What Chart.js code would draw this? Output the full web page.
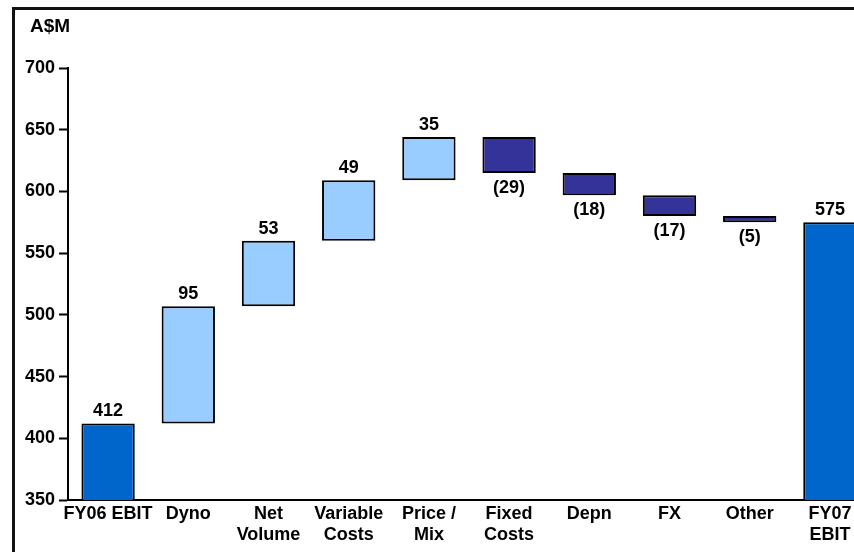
<!DOCTYPE html>
<html>
<head>
<meta charset="utf-8">
<script src="https://cdn.jsdelivr.net/npm/chart.js@4/dist/chart.umd.min.js"></script>
<style>
  html, body { margin: 0; padding: 0; background: #fff; overflow: hidden; width: 854px; height: 552px; }
  #frame { position: absolute; left: 12px; top: 7px; width: 900px; height: 600px;
           border-left: 3px solid #111; border-top: 3px solid #111; }
  #wrap { position: absolute; left: 0; top: 0; width: 870px; height: 570px; }
</style>
</head>
<body>
<div id="frame"><div id="wrap"><canvas id="c" width="870" height="570"></canvas></div></div>
<script>
// EBIT bridge, FY06 -> FY07 (A$M)
const unitText = 'A$M';
const categories = ['FY06 EBIT', 'Dyno', ['Net', 'Volume'], ['Variable', 'Costs'], ['Price /', 'Mix'],
                    ['Fixed', 'Costs'], 'Depn', 'FX', 'Other', ['FY07', 'EBIT']];
const openingTotal = 412;
const changes = [95, 53, 49, 35, -29, -18, -17, -5];
const closingTotal = 575;
const yMin = 350, yMax = 700, yStep = 50;

const totalColor = '#0066CC';
const upColor = '#99CCFF';
const downColor = '#333399';

// floating bars for each step of the bridge
const steps = [];
let running = openingTotal;
changes.forEach(d => { steps.push([running, running + d]); running += d; });
const barData = [openingTotal, ...steps, closingTotal];
const labelValues = [openingTotal, ...changes, closingTotal];
const barColors = [totalColor, ...changes.map(d => d >= 0 ? upColor : downColor), totalColor];

const FONT_FAMILY = '"Liberation Sans", Arial, Helvetica, sans-serif';
const TEXT_COLOR = '#000';
const tickFont = { family: FONT_FAMILY, size: 18, weight: 'bold', lineHeight: 1.15 };

const unitLabel = {
  id: 'unitLabel',
  afterDraw(chart) {
    const ctx = chart.ctx;
    ctx.save();
    ctx.font = 'bold 19px ' + FONT_FAMILY;
    ctx.fillStyle = TEXT_COLOR;
    ctx.textBaseline = 'middle';
    ctx.textAlign = 'left';
    ctx.fillText(unitText, 15, 17);
    ctx.restore();
  }
};

const valueLabels = {
  id: 'valueLabels',
  afterDatasetsDraw(chart) {
    const ctx = chart.ctx;
    const meta = chart.getDatasetMeta(0);
    ctx.save();
    ctx.font = 'bold 18px ' + FONT_FAMILY;
    ctx.fillStyle = TEXT_COLOR;
    ctx.textAlign = 'center';
    meta.data.forEach((bar, i) => {
      const v = labelValues[i];
      const top = Math.min(bar.y, bar.base);
      const bottom = Math.max(bar.y, bar.base);
      if (v < 0) {
        ctx.textBaseline = 'top';
        ctx.fillText('(' + Math.abs(v) + ')', bar.x, bottom + 6);
      } else {
        ctx.textBaseline = 'alphabetic';
        ctx.fillText(String(v), bar.x, top - 7);
      }
    });
    ctx.restore();
  }
};

new Chart(document.getElementById('c'), {
  type: 'bar',
  data: {
    labels: categories,
    datasets: [{
      data: barData,
      backgroundColor: barColors,
      borderColor: '#000',
      borderWidth: 2,
      borderSkipped: false,
      barPercentage: 0.665,
      categoryPercentage: 1
    }]
  },
  options: {
    responsive: false,
    animation: false,
    devicePixelRatio: 1,
    layout: { padding: { top: 58, right: 15, bottom: 20, left: 0 } },
    plugins: { legend: { display: false }, tooltip: { enabled: false }, title: { display: false } },
    scales: {
      x: {
        grid: { display: true, drawOnChartArea: false, drawTicks: false },
        border: { display: true, color: '#000', width: 2 },
        ticks: { font: tickFont, color: TEXT_COLOR, padding: 4, autoSkip: false, maxRotation: 0, minRotation: 0 },
        afterFit(s) { s.height = 60; }
      },
      y: {
        min: yMin,
        max: yMax,
        ticks: { stepSize: yStep, font: tickFont, color: TEXT_COLOR, padding: 4 },
        grid: { drawOnChartArea: false, drawTicks: true, tickLength: 9, tickWidth: 2, tickColor: '#000' },
        border: { display: true, color: '#000', width: 2 },
        afterFit(s) { s.width = 53; }
      }
    }
  },
  plugins: [unitLabel, valueLabels]
});
</script>
</body>
</html>
